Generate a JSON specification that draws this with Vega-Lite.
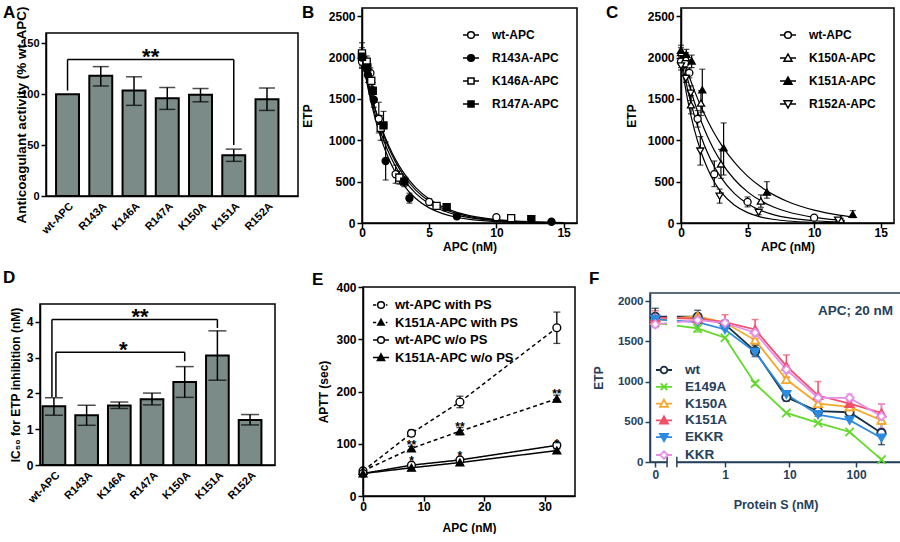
{
"$schema": "https://vega.github.io/schema/vega-lite/v6.json",
"padding": {"left": 1, "top": 1, "right": 1, "bottom": 0},
"datasets": {
"actA": [
{"variant":"wt-APC","act":100},
{"variant":"R143A","act":118,"lo":108,"hi":127},
{"variant":"K146A","act":103.5,"lo":89,"hi":117},
{"variant":"R147A","act":96,"lo":85,"hi":106.5},
{"variant":"K150A","act":99.5,"lo":92.5,"hi":105.5},
{"variant":"K151A","act":40,"lo":34,"hi":46},
{"variant":"R152A","act":95,"lo":84,"hi":106}
],
"sigA": [{"from":"wt-APC","to":"K151A","mid":"R147A","top":134,"left":103.5,"right":50,"label":"**"}],
"ic50D": [
{"variant":"wt-APC","ic50":1.64,"lo":1.39,"hi":1.88},
{"variant":"R143A","ic50":1.39,"lo":1.11,"hi":1.67},
{"variant":"K146A","ic50":1.66,"lo":1.58,"hi":1.76},
{"variant":"R147A","ic50":1.84,"lo":1.68,"hi":2.01},
{"variant":"K150A","ic50":2.32,"lo":1.89,"hi":2.75},
{"variant":"K151A","ic50":3.06,"lo":2.37,"hi":3.75},
{"variant":"R152A","ic50":1.26,"lo":1.12,"hi":1.41}
],
"sigD": [
{"from":"wt-APC","to":"K151A","mid":"R147A","top":4.07,"left":1.9,"right":3.83,"label":"**"},
{"from":"wt-APC","to":"K150A","mid":"K146A","top":3.15,"left":1.9,"right":2.9,"label":"*"}
],
"ptsB": [
{"variant":"wt-APC","apc":0,"etp":1950,"lo":1870,"hi":2030},
{"variant":"wt-APC","apc":0.31,"etp":1930,"lo":1870,"hi":1990},
{"variant":"wt-APC","apc":0.625,"etp":1815,"lo":1755,"hi":1875},
{"variant":"wt-APC","apc":1.25,"etp":1260,"lo":1090,"hi":1460},
{"variant":"wt-APC","apc":2.5,"etp":590,"lo":480,"hi":700},
{"variant":"wt-APC","apc":5,"etp":255,"lo":215,"hi":295},
{"variant":"wt-APC","apc":10,"etp":70,"lo":50,"hi":90},
{"variant":"R143A-APC","apc":0,"etp":2000,"lo":1880,"hi":2120},
{"variant":"R143A-APC","apc":0.44,"etp":1790,"lo":1700,"hi":1880},
{"variant":"R143A-APC","apc":0.88,"etp":1490,"lo":1400,"hi":1580},
{"variant":"R143A-APC","apc":1.76,"etp":750,"lo":520,"hi":980},
{"variant":"R143A-APC","apc":3.53,"etp":300,"lo":240,"hi":360},
{"variant":"R143A-APC","apc":7.06,"etp":80,"lo":65,"hi":95},
{"variant":"R143A-APC","apc":14.1,"etp":15,"lo":8,"hi":22},
{"variant":"K146A-APC","apc":0,"etp":2050,"lo":1900,"hi":2180},
{"variant":"K146A-APC","apc":0.35,"etp":1950,"lo":1880,"hi":2020},
{"variant":"K146A-APC","apc":0.69,"etp":1720,"lo":1650,"hi":1790},
{"variant":"K146A-APC","apc":1.39,"etp":1150,"lo":1000,"hi":1300},
{"variant":"K146A-APC","apc":2.78,"etp":550,"lo":470,"hi":630},
{"variant":"K146A-APC","apc":5.55,"etp":207,"lo":180,"hi":235},
{"variant":"K146A-APC","apc":11.1,"etp":58,"lo":45,"hi":70},
{"variant":"R147A-APC","apc":0,"etp":2010,"lo":1950,"hi":2070},
{"variant":"R147A-APC","apc":0.4,"etp":1880,"lo":1800,"hi":1960},
{"variant":"R147A-APC","apc":0.8,"etp":1600,"lo":1500,"hi":1700},
{"variant":"R147A-APC","apc":1.6,"etp":1180,"lo":1000,"hi":1350},
{"variant":"R147A-APC","apc":3.15,"etp":500,"lo":440,"hi":560},
{"variant":"R147A-APC","apc":6.3,"etp":192,"lo":170,"hi":215},
{"variant":"R147A-APC","apc":12.6,"etp":45,"lo":35,"hi":55}
],
"fitB": [
{"variant":"wt-APC","apc":0,"etp":2000},{"variant":"wt-APC","apc":0.5,"etp":1613},{"variant":"wt-APC","apc":1,"etp":1301},{"variant":"wt-APC","apc":1.5,"etp":1049},{"variant":"wt-APC","apc":2,"etp":846},{"variant":"wt-APC","apc":2.5,"etp":683},{"variant":"wt-APC","apc":3,"etp":551},{"variant":"wt-APC","apc":4,"etp":358},{"variant":"wt-APC","apc":5,"etp":233},{"variant":"wt-APC","apc":6,"etp":152},{"variant":"wt-APC","apc":7,"etp":99},{"variant":"wt-APC","apc":8,"etp":64},{"variant":"wt-APC","apc":10,"etp":27},{"variant":"wt-APC","apc":12,"etp":11},{"variant":"wt-APC","apc":14,"etp":5},{"variant":"wt-APC","apc":15,"etp":3},
{"variant":"R143A-APC","apc":0,"etp":2020},{"variant":"R143A-APC","apc":0.5,"etp":1589},{"variant":"R143A-APC","apc":1,"etp":1250},{"variant":"R143A-APC","apc":1.5,"etp":983},{"variant":"R143A-APC","apc":2,"etp":773},{"variant":"R143A-APC","apc":2.5,"etp":608},{"variant":"R143A-APC","apc":3,"etp":479},{"variant":"R143A-APC","apc":4,"etp":296},{"variant":"R143A-APC","apc":5,"etp":183},{"variant":"R143A-APC","apc":6,"etp":113},{"variant":"R143A-APC","apc":7,"etp":70},{"variant":"R143A-APC","apc":8,"etp":43},{"variant":"R143A-APC","apc":10,"etp":17},{"variant":"R143A-APC","apc":12,"etp":6},{"variant":"R143A-APC","apc":14,"etp":2},{"variant":"R143A-APC","apc":15,"etp":1},
{"variant":"K146A-APC","apc":0,"etp":2050},{"variant":"K146A-APC","apc":0.5,"etp":1670},{"variant":"K146A-APC","apc":1,"etp":1361},{"variant":"K146A-APC","apc":1.5,"etp":1108},{"variant":"K146A-APC","apc":2,"etp":903},{"variant":"K146A-APC","apc":2.5,"etp":736},{"variant":"K146A-APC","apc":3,"etp":599},{"variant":"K146A-APC","apc":4,"etp":398},{"variant":"K146A-APC","apc":5,"etp":264},{"variant":"K146A-APC","apc":6,"etp":175},{"variant":"K146A-APC","apc":7,"etp":116},{"variant":"K146A-APC","apc":8,"etp":77},{"variant":"K146A-APC","apc":10,"etp":34},{"variant":"K146A-APC","apc":12,"etp":15},{"variant":"K146A-APC","apc":14,"etp":6},{"variant":"K146A-APC","apc":15,"etp":4},
{"variant":"R147A-APC","apc":0,"etp":2030},{"variant":"R147A-APC","apc":0.5,"etp":1670},{"variant":"R147A-APC","apc":1,"etp":1374},{"variant":"R147A-APC","apc":1.5,"etp":1131},{"variant":"R147A-APC","apc":2,"etp":931},{"variant":"R147A-APC","apc":2.5,"etp":766},{"variant":"R147A-APC","apc":3,"etp":630},{"variant":"R147A-APC","apc":4,"etp":427},{"variant":"R147A-APC","apc":5,"etp":289},{"variant":"R147A-APC","apc":6,"etp":196},{"variant":"R147A-APC","apc":7,"etp":132},{"variant":"R147A-APC","apc":8,"etp":90},{"variant":"R147A-APC","apc":10,"etp":41},{"variant":"R147A-APC","apc":12,"etp":19},{"variant":"R147A-APC","apc":14,"etp":9},{"variant":"R147A-APC","apc":15,"etp":6}
],
"ptsC": [
{"variant":"wt-APC","apc":0,"etp":1950,"lo":1880,"hi":2020},
{"variant":"wt-APC","apc":0.31,"etp":1930,"lo":1880,"hi":1980},
{"variant":"wt-APC","apc":0.625,"etp":1815,"lo":1755,"hi":1875},
{"variant":"wt-APC","apc":1.25,"etp":1260,"lo":1160,"hi":1360},
{"variant":"wt-APC","apc":2.5,"etp":590,"lo":440,"hi":750},
{"variant":"wt-APC","apc":5,"etp":255,"lo":195,"hi":315},
{"variant":"wt-APC","apc":10,"etp":65,"lo":50,"hi":80},
{"variant":"K150A-APC","apc":0,"etp":2060,"lo":2000,"hi":2120},
{"variant":"K150A-APC","apc":0.375,"etp":2000,"lo":1940,"hi":2060},
{"variant":"K150A-APC","apc":0.75,"etp":1430,"lo":1320,"hi":1540},
{"variant":"K150A-APC","apc":1.5,"etp":1450,"lo":1300,"hi":1600},
{"variant":"K150A-APC","apc":3,"etp":714,"lo":540,"hi":890},
{"variant":"K150A-APC","apc":6,"etp":265,"lo":190,"hi":340},
{"variant":"K150A-APC","apc":12,"etp":42,"lo":28,"hi":56},
{"variant":"K151A-APC","apc":0,"etp":2090,"lo":2020,"hi":2150},
{"variant":"K151A-APC","apc":0.4,"etp":2040,"lo":1980,"hi":2100},
{"variant":"K151A-APC","apc":0.8,"etp":1960,"lo":1880,"hi":2030},
{"variant":"K151A-APC","apc":1.6,"etp":1610,"lo":1340,"hi":1860},
{"variant":"K151A-APC","apc":3.2,"etp":909,"lo":580,"hi":1210},
{"variant":"K151A-APC","apc":6.45,"etp":374,"lo":300,"hi":500},
{"variant":"K151A-APC","apc":12.9,"etp":105,"lo":65,"hi":150},
{"variant":"R152A-APC","apc":0,"etp":1900,"lo":1850,"hi":1950},
{"variant":"R152A-APC","apc":0.36,"etp":1750,"lo":1700,"hi":1800},
{"variant":"R152A-APC","apc":0.73,"etp":1570,"lo":1480,"hi":1660},
{"variant":"R152A-APC","apc":1.45,"etp":870,"lo":700,"hi":1045},
{"variant":"R152A-APC","apc":2.9,"etp":324,"lo":240,"hi":410},
{"variant":"R152A-APC","apc":5.83,"etp":129,"lo":100,"hi":160},
{"variant":"R152A-APC","apc":11.8,"etp":35,"lo":25,"hi":45}
],
"fitC": [
{"variant":"wt-APC","apc":0,"etp":2000},{"variant":"wt-APC","apc":0.5,"etp":1613},{"variant":"wt-APC","apc":1,"etp":1301},{"variant":"wt-APC","apc":1.5,"etp":1049},{"variant":"wt-APC","apc":2,"etp":846},{"variant":"wt-APC","apc":2.5,"etp":683},{"variant":"wt-APC","apc":3,"etp":551},{"variant":"wt-APC","apc":4,"etp":358},{"variant":"wt-APC","apc":5,"etp":233},{"variant":"wt-APC","apc":6,"etp":152},{"variant":"wt-APC","apc":7,"etp":99},{"variant":"wt-APC","apc":8,"etp":64},{"variant":"wt-APC","apc":10,"etp":27},{"variant":"wt-APC","apc":12,"etp":11},{"variant":"wt-APC","apc":12.3,"etp":10},
{"variant":"K150A-APC","apc":0,"etp":2060},{"variant":"K150A-APC","apc":0.5,"etp":1738},{"variant":"K150A-APC","apc":1,"etp":1466},{"variant":"K150A-APC","apc":1.5,"etp":1237},{"variant":"K150A-APC","apc":2,"etp":1044},{"variant":"K150A-APC","apc":2.5,"etp":880},{"variant":"K150A-APC","apc":3,"etp":743},{"variant":"K150A-APC","apc":4,"etp":529},{"variant":"K150A-APC","apc":5,"etp":376},{"variant":"K150A-APC","apc":6,"etp":268},{"variant":"K150A-APC","apc":7,"etp":191},{"variant":"K150A-APC","apc":8,"etp":136},{"variant":"K150A-APC","apc":10,"etp":69},{"variant":"K150A-APC","apc":12,"etp":35},{"variant":"K150A-APC","apc":12.3,"etp":31},
{"variant":"K151A-APC","apc":0,"etp":2080},{"variant":"K151A-APC","apc":0.5,"etp":1826},{"variant":"K151A-APC","apc":1,"etp":1604},{"variant":"K151A-APC","apc":1.5,"etp":1408},{"variant":"K151A-APC","apc":2,"etp":1237},{"variant":"K151A-APC","apc":2.5,"etp":1086},{"variant":"K151A-APC","apc":3,"etp":953},{"variant":"K151A-APC","apc":4,"etp":735},{"variant":"K151A-APC","apc":5,"etp":567},{"variant":"K151A-APC","apc":6,"etp":437},{"variant":"K151A-APC","apc":7,"etp":337},{"variant":"K151A-APC","apc":8,"etp":260},{"variant":"K151A-APC","apc":10,"etp":155},{"variant":"K151A-APC","apc":12,"etp":92},{"variant":"K151A-APC","apc":13,"etp":71},
{"variant":"R152A-APC","apc":0,"etp":1960},{"variant":"R152A-APC","apc":0.5,"etp":1487},{"variant":"R152A-APC","apc":1,"etp":1131},{"variant":"R152A-APC","apc":1.5,"etp":861},{"variant":"R152A-APC","apc":2,"etp":655},{"variant":"R152A-APC","apc":2.5,"etp":496},{"variant":"R152A-APC","apc":3,"etp":377},{"variant":"R152A-APC","apc":4,"etp":217},{"variant":"R152A-APC","apc":5,"etp":125},{"variant":"R152A-APC","apc":6,"etp":72},{"variant":"R152A-APC","apc":7,"etp":42},{"variant":"R152A-APC","apc":8,"etp":24},{"variant":"R152A-APC","apc":10,"etp":8},{"variant":"R152A-APC","apc":12,"etp":3},{"variant":"R152A-APC","apc":12.3,"etp":2}
],
"apttE": [
{"series":"wt-APC  with PS","apc":0,"aptt":48},
{"series":"wt-APC  with PS","apc":8,"aptt":120,"lo":114,"hi":126},
{"series":"wt-APC  with PS","apc":16,"aptt":180,"lo":169,"hi":191},
{"series":"wt-APC  with PS","apc":32,"aptt":322,"lo":292,"hi":352},
{"series":"K151A-APC with PS","apc":0,"aptt":48},
{"series":"K151A-APC with PS","apc":8,"aptt":91,"lo":87,"hi":95,"sig":"**"},
{"series":"K151A-APC with PS","apc":16,"aptt":124,"lo":117,"hi":131,"sig":"**"},
{"series":"K151A-APC with PS","apc":32,"aptt":186,"lo":180,"hi":193,"sig":"**"},
{"series":"wt-APC w/o PS","apc":0,"aptt":43},
{"series":"wt-APC w/o PS","apc":8,"aptt":59,"lo":55,"hi":63},
{"series":"wt-APC w/o PS","apc":16,"aptt":69,"lo":65,"hi":73},
{"series":"wt-APC w/o PS","apc":32,"aptt":97,"lo":92,"hi":102},
{"series":"K151A-APC w/o PS","apc":0,"aptt":43},
{"series":"K151A-APC w/o PS","apc":8,"aptt":54,"lo":51,"hi":57,"sig":"*"},
{"series":"K151A-APC w/o PS","apc":16,"aptt":64,"lo":61,"hi":67,"sig":"*"},
{"series":"K151A-APC w/o PS","apc":32,"aptt":87,"lo":84,"hi":90,"sig":"*"}
],
"psF": [
{"variant":"wt","ps":0,"etp":1805,"lo":1700,"hi":1910},
{"variant":"wt","ps":0.33,"etp":1805,"lo":1725,"hi":1885},
{"variant":"wt","ps":1,"etp":1710,"lo":1660,"hi":1760},
{"variant":"wt","ps":3,"etp":1378,"lo":1310,"hi":1450},
{"variant":"wt","ps":9,"etp":805,"lo":755,"hi":855},
{"variant":"wt","ps":27,"etp":631,"lo":570,"hi":690},
{"variant":"wt","ps":80,"etp":618,"lo":570,"hi":665},
{"variant":"wt","ps":240,"etp":361,"lo":215,"hi":495},
{"variant":"E149A","ps":0,"etp":1730},
{"variant":"E149A","ps":0.33,"etp":1660,"lo":1615,"hi":1705},
{"variant":"E149A","ps":1,"etp":1544},
{"variant":"E149A","ps":3,"etp":975,"lo":950,"hi":1000},
{"variant":"E149A","ps":9,"etp":610},
{"variant":"E149A","ps":27,"etp":485},
{"variant":"E149A","ps":80,"etp":373},
{"variant":"E149A","ps":240,"etp":29},
{"variant":"K150A","ps":0,"etp":1763},
{"variant":"K150A","ps":0.33,"etp":1813},
{"variant":"K150A","ps":1,"etp":1730},
{"variant":"K150A","ps":3,"etp":1515,"lo":1460,"hi":1570},
{"variant":"K150A","ps":9,"etp":1025,"lo":990,"hi":1060},
{"variant":"K150A","ps":27,"etp":726,"lo":690,"hi":760},
{"variant":"K150A","ps":80,"etp":685,"lo":650,"hi":720},
{"variant":"K150A","ps":240,"etp":519,"lo":470,"hi":570},
{"variant":"K151A","ps":0,"etp":1793,"lo":1700,"hi":1880},
{"variant":"K151A","ps":0.33,"etp":1780},
{"variant":"K151A","ps":1,"etp":1739,"lo":1650,"hi":1830},
{"variant":"K151A","ps":3,"etp":1647,"lo":1530,"hi":1770},
{"variant":"K151A","ps":9,"etp":1191,"lo":1050,"hi":1330},
{"variant":"K151A","ps":27,"etp":826,"lo":650,"hi":1000},
{"variant":"K151A","ps":80,"etp":726,"lo":680,"hi":770},
{"variant":"K151A","ps":240,"etp":610,"lo":500,"hi":720},
{"variant":"EKKR","ps":0,"etp":1772},
{"variant":"EKKR","ps":0.33,"etp":1739},
{"variant":"EKKR","ps":1,"etp":1647},
{"variant":"EKKR","ps":3,"etp":1365},
{"variant":"EKKR","ps":9,"etp":840},
{"variant":"EKKR","ps":27,"etp":589},
{"variant":"EKKR","ps":80,"etp":519},
{"variant":"EKKR","ps":240,"etp":299},
{"variant":"KKR","ps":0,"etp":1710,"lo":1670,"hi":1750},
{"variant":"KKR","ps":0.33,"etp":1763},
{"variant":"KKR","ps":1,"etp":1730},
{"variant":"KKR","ps":3,"etp":1606,"lo":1560,"hi":1650},
{"variant":"KKR","ps":9,"etp":1149,"lo":1100,"hi":1200},
{"variant":"KKR","ps":27,"etp":797,"lo":750,"hi":845},
{"variant":"KKR","ps":80,"etp":797,"lo":750,"hi":845},
{"variant":"KKR","ps":240,"etp":568,"lo":420,"hi":720}
]
},
"config": {
"font": "Liberation Sans",
"numberFormat": "d",
"view": {"stroke": "black", "strokeWidth": 1.5},
"axis": {"labelFontWeight": "bold", "labelFontSize": 12, "labelColor": "black", "titleFontWeight": "bold", "titleFontSize": 12, "titleColor": "black", "domainColor": "black", "domainWidth": 1.5, "tickColor": "black", "tickWidth": 1.5, "tickSize": 5, "grid": false, "labelPadding": 2, "labelFlush": false},
"legend": {"labelFontWeight": "bold", "labelFontSize": 12, "labelColor": "black", "symbolOpacity": 1, "padding": 0},
"title": {"fontSize": 17, "fontWeight": "bold", "anchor": "start", "frame": "group", "color": "black"}
},
"resolve": {"scale": {"x": "independent", "y": "independent", "shape": "independent", "fill": "independent", "stroke": "independent", "color": "independent", "strokeDash": "independent"}, "axis": {"x": "independent", "y": "independent"}, "legend": {"shape": "independent", "fill": "independent", "stroke": "independent", "color": "independent", "strokeDash": "independent"}},
"columns": 2, "align": "none", "spacing": {"row": 14, "column": 0},
"concat": [
{"width": 1, "height": 1, "view": {"stroke": null}, "data": {"values": [{}]}, "mark": {"type": "point", "size": 0, "opacity": 0, "strokeWidth": 0}},
{"columns": 2, "align": "none", "spacing": {"row": 0, "column": 1},
"resolve": {"scale": {"x": "independent", "y": "independent", "shape": "independent", "fill": "independent", "stroke": "independent", "color": "independent", "strokeDash": "independent"}, "axis": {"x": "independent", "y": "independent"}, "legend": {"shape": "independent", "fill": "independent", "stroke": "independent", "color": "independent", "strokeDash": "independent"}},
"concat": [
{"width": 1, "height": 1, "view": {"stroke": null}, "data": {"values": [{}]}, "mark": {"type": "point", "size": 0, "opacity": 0, "strokeWidth": 0}},
{"width": 1, "height": 1, "view": {"stroke": null}, "data": {"values": [{}]}, "mark": {"type": "point", "size": 0, "opacity": 0, "strokeWidth": 0}},
{
"width": 252, "height": 163,
"title": {"text": "A", "dx": -43, "offset": -15.5},
"layer": [
{"data": {"name": "actA"},
"mark": {"type": "bar", "fill": "#7b8c88", "stroke": "black", "strokeWidth": 2},
"encoding": {
"x": {"field": "variant", "type": "nominal", "title": null, "scale": {"domain": ["wt-APC","R143A","K146A","R147A","K150A","K151A","R152A"], "paddingInner": 0.31, "paddingOuter": 0.445, "align": 0.34}, "axis": {"labelAngle": -45, "ticks": false, "labelFontSize": 11, "labelPadding": 4}},
"y": {"field": "act", "type": "quantitative", "title": "Anticoagulant activity (% wt-APC)", "scale": {"domain": [0, 150]}, "axis": {"values": [0,50,100,150], "titleFontSize": 13.5, "labelFontSize": 11, "titlePadding": -7.5}}
}},
{"data": {"name": "actA"}, "transform": [{"filter": "isValid(datum.lo)"}],
"mark": {"type": "errorbar", "ticks": true, "size": 16, "thickness": 1.5, "color": "black"},
"encoding": {"x": {"field": "variant", "type": "nominal", "title": null}, "y": {"field": "lo", "type": "quantitative", "title": "Anticoagulant activity (% wt-APC)"}, "y2": {"field": "hi"}}},
{"data": {"name": "sigA"}, "mark": {"type": "rule", "strokeWidth": 1.5, "color": "black"},
"encoding": {"x": {"field": "from", "type": "nominal", "title": null, "bandPosition": 0.5}, "x2": {"field": "to", "bandPosition": 0.5}, "y": {"field": "top", "type": "quantitative", "title": "Anticoagulant activity (% wt-APC)"}}},
{"data": {"name": "sigA"}, "mark": {"type": "rule", "strokeWidth": 1.5, "color": "black"},
"encoding": {"x": {"field": "from", "type": "nominal", "title": null, "bandPosition": 0.5}, "y": {"field": "left", "type": "quantitative", "title": "Anticoagulant activity (% wt-APC)"}, "y2": {"field": "top"}}},
{"data": {"name": "sigA"}, "mark": {"type": "rule", "strokeWidth": 1.5, "color": "black"},
"encoding": {"x": {"field": "to", "type": "nominal", "title": null, "bandPosition": 0.5}, "y": {"field": "right", "type": "quantitative", "title": "Anticoagulant activity (% wt-APC)"}, "y2": {"field": "top"}}},
{"data": {"name": "sigA"}, "mark": {"type": "text", "fontSize": 22, "fontWeight": "bold", "dx": -16.6, "dy": 5, "baseline": "alphabetic", "color": "black"},
"encoding": {"x": {"field": "mid", "type": "nominal", "title": null, "bandPosition": 0.5}, "y": {"field": "top", "type": "quantitative", "title": "Anticoagulant activity (% wt-APC)"}, "text": {"field": "label"}}}
]
},
{"columns": 2, "align": "none", "spacing": 27,
"resolve": {"scale": {"x": "independent", "y": "independent", "shape": "independent", "fill": "independent", "stroke": "independent", "color": "independent", "strokeDash": "independent"}, "axis": {"x": "independent", "y": "independent"}, "legend": {"shape": "independent", "fill": "independent", "stroke": "independent", "color": "independent", "strokeDash": "independent"}},
"concat": [
{
"width": 215, "height": 215,
"title": {"text": "B", "dx": -60, "offset": -13.5},
"resolve": {"scale": {"shape": "independent", "fill": "independent", "stroke": "independent"}, "legend": {"shape": "independent", "fill": "independent", "stroke": "independent"}},
"layer": [
{"data": {"name": "fitB"}, "mark": {"type": "line", "interpolate": "monotone", "color": "black", "strokeWidth": 1.2},
"encoding": {
"x": {"field": "apc", "type": "quantitative", "title": "APC (nM)", "scale": {"domain": [0, 15]}, "axis": {"values": [0,5,10,15], "titlePadding": 3, "labelPadding": -1}},
"y": {"field": "etp", "type": "quantitative", "title": "ETP", "scale": {"domain": [0, 2500]}, "axis": {"values": [0,500,1000,1500,2000,2500], "titlePadding": 14}},
"detail": {"field": "variant", "type": "nominal"}}},
{"data": {"name": "ptsB"}, "mark": {"type": "errorbar", "ticks": true, "size": 6, "thickness": 1.2, "color": "black"},
"encoding": {"x": {"field": "apc", "type": "quantitative", "title": "APC (nM)"}, "y": {"field": "lo", "type": "quantitative", "title": "ETP"}, "y2": {"field": "hi"}}},
{"data": {"name": "ptsB"}, "mark": {"type": "point", "filled": true, "size": 50, "stroke": "black", "strokeWidth": 1.3, "opacity": 1},
"encoding": {
"x": {"field": "apc", "type": "quantitative", "title": "APC (nM)"},
"y": {"field": "etp", "type": "quantitative", "title": "ETP"},
"shape": {"field": "variant", "type": "nominal", "scale": {"domain": ["wt-APC","R143A-APC","K146A-APC","R147A-APC"], "range": ["circle","circle","square","square"]}, "legend": null},
"fill": {"field": "variant", "type": "nominal", "scale": {"domain": ["wt-APC","R143A-APC","K146A-APC","R147A-APC"], "range": ["white","black","white","black"]}, "legend": null}}},
{"data": {"name": "ptsB"}, "transform": [{"filter": "false"}], "mark": {"type": "point", "filled": true, "strokeWidth": 1.5, "opacity": 1},
"encoding": {
"x": {"field": "apc", "type": "quantitative", "title": "APC (nM)"},
"y": {"field": "etp", "type": "quantitative", "title": "ETP"},
"stroke": {"field": "variant", "type": "nominal", "scale": {"domain": ["wt-APC","R143A-APC","K146A-APC","R147A-APC"], "range": ["black","black","black","black"]}, "legend": null},
"fill": {"field": "variant", "type": "nominal", "scale": {"domain": ["wt-APC","R143A-APC","K146A-APC","R147A-APC"], "range": ["white","black","white","black"]}, "legend": null},
"shape": {"field": "variant", "type": "nominal", "scale": {"domain": ["wt-APC","R143A-APC","K146A-APC","R147A-APC"], "range": ["M-1,0L-0.42,0M0.42,0L1,0M0.42,0A0.42,0.42,0,1,1,-0.42,0A0.42,0.42,0,1,1,0.42,0Z","M-1,0L-0.42,0M0.42,0L1,0M0.42,0A0.42,0.42,0,1,1,-0.42,0A0.42,0.42,0,1,1,0.42,0Z","M-1,0L-0.38,0M0.38,0L1,0M-0.38,-0.38L0.38,-0.38L0.38,0.38L-0.38,0.38Z","M-1,0L-0.38,0M0.38,0L1,0M-0.38,-0.38L0.38,-0.38L0.38,0.38L-0.38,0.38Z"]},
"legend": {"title": null, "orient": "top-right", "offset": 18, "symbolSize": 256, "labelOffset": 12, "rowPadding": 7, "labelFontSize": 12, "symbolStrokeWidth": 1.5}}}}
]
},
{
"width": 213, "height": 215,
"title": {"text": "C", "dx": -75, "offset": -13.5},
"resolve": {"scale": {"shape": "independent", "fill": "independent", "stroke": "independent"}, "legend": {"shape": "independent", "fill": "independent", "stroke": "independent"}},
"layer": [
{"data": {"name": "fitC"}, "mark": {"type": "line", "interpolate": "monotone", "color": "black", "strokeWidth": 1.2},
"encoding": {
"x": {"field": "apc", "type": "quantitative", "title": "APC (nM)", "scale": {"domain": [0, 15]}, "axis": {"values": [0,5,10,15], "titlePadding": 3, "labelPadding": -1}},
"y": {"field": "etp", "type": "quantitative", "title": "ETP", "scale": {"domain": [0, 2500]}, "axis": {"values": [0,500,1000,1500,2000,2500], "titlePadding": 9}},
"detail": {"field": "variant", "type": "nominal"}}},
{"data": {"name": "ptsC"}, "mark": {"type": "errorbar", "ticks": true, "size": 6, "thickness": 1.2, "color": "black"},
"encoding": {"x": {"field": "apc", "type": "quantitative", "title": "APC (nM)"}, "y": {"field": "lo", "type": "quantitative", "title": "ETP"}, "y2": {"field": "hi"}}},
{"data": {"name": "ptsC"}, "mark": {"type": "point", "filled": true, "size": 50, "stroke": "black", "strokeWidth": 1.3, "opacity": 1},
"encoding": {
"x": {"field": "apc", "type": "quantitative", "title": "APC (nM)"},
"y": {"field": "etp", "type": "quantitative", "title": "ETP"},
"shape": {"field": "variant", "type": "nominal", "scale": {"domain": ["wt-APC","K150A-APC","K151A-APC","R152A-APC"], "range": ["circle","triangle-up","triangle-up","triangle-down"]}, "legend": null},
"fill": {"field": "variant", "type": "nominal", "scale": {"domain": ["wt-APC","K150A-APC","K151A-APC","R152A-APC"], "range": ["white","white","black","white"]}, "legend": null}}},
{"data": {"name": "ptsC"}, "transform": [{"filter": "false"}], "mark": {"type": "point", "filled": true, "strokeWidth": 1.5, "opacity": 1},
"encoding": {
"x": {"field": "apc", "type": "quantitative", "title": "APC (nM)"},
"y": {"field": "etp", "type": "quantitative", "title": "ETP"},
"stroke": {"field": "variant", "type": "nominal", "scale": {"domain": ["wt-APC","K150A-APC","K151A-APC","R152A-APC"], "range": ["black","black","black","black"]}, "legend": null},
"fill": {"field": "variant", "type": "nominal", "scale": {"domain": ["wt-APC","K150A-APC","K151A-APC","R152A-APC"], "range": ["white","white","black","white"]}, "legend": null},
"shape": {"field": "variant", "type": "nominal", "scale": {"domain": ["wt-APC","K150A-APC","K151A-APC","R152A-APC"], "range": ["M-1,0L-0.42,0M0.42,0L1,0M0.42,0A0.42,0.42,0,1,1,-0.42,0A0.42,0.42,0,1,1,0.42,0Z","M-1,0L-0.28,0M0.28,0L1,0M0,-0.5L0.5,0.4L-0.5,0.4Z","M-1,0L-0.28,0M0.28,0L1,0M0,-0.5L0.5,0.4L-0.5,0.4Z","M-1,0L-0.28,0M0.28,0L1,0M0,0.5L0.5,-0.4L-0.5,-0.4Z"]},
"legend": {"title": null, "orient": "top-right", "offset": 18, "symbolSize": 256, "labelOffset": 12, "rowPadding": 7, "labelFontSize": 12, "symbolStrokeWidth": 1.5}}}}
]
}
]}
]},
{"width": 1, "height": 1, "view": {"stroke": null}, "data": {"values": [{}]}, "mark": {"type": "point", "size": 0, "opacity": 0, "strokeWidth": 0}},
{"columns": 2, "align": "none", "spacing": {"row": 0, "column": 35},
"resolve": {"scale": {"x": "independent", "y": "independent", "shape": "independent", "fill": "independent", "stroke": "independent", "color": "independent", "strokeDash": "independent"}, "axis": {"x": "independent", "y": "independent"}, "legend": {"shape": "independent", "fill": "independent", "stroke": "independent", "color": "independent", "strokeDash": "independent"}},
"concat": [
{"width": 1, "height": 1, "view": {"stroke": null}, "data": {"values": [{}]}, "mark": {"type": "point", "size": 0, "opacity": 0, "strokeWidth": 0}},
{"width": 1, "height": 1, "view": {"stroke": null}, "data": {"values": [{}]}, "mark": {"type": "point", "size": 0, "opacity": 0, "strokeWidth": 0}},
{
"width": 235, "height": 161,
"title": {"text": "D", "dx": -37, "offset": 16.75},
"layer": [
{"data": {"name": "ic50D"},
"mark": {"type": "bar", "fill": "#7b8c88", "stroke": "black", "strokeWidth": 2},
"encoding": {
"x": {"field": "variant", "type": "nominal", "title": null, "scale": {"domain": ["wt-APC","R143A","K146A","R147A","K150A","K151A","R152A"], "paddingInner": 0.306, "paddingOuter": 0.247, "align": 0.16}, "axis": {"labelAngle": -45, "ticks": false, "labelFontSize": 11, "labelPadding": 4}},
"y": {"field": "ic50", "type": "quantitative", "title": "IC₅₀ for ETP inhibition (nM)", "scale": {"domain": [0, 4.5]}, "axis": {"values": [0,1,2,3,4], "titlePadding": 4}}
}},
{"data": {"name": "ic50D"},
"mark": {"type": "errorbar", "ticks": true, "size": 18, "thickness": 1.5, "color": "black"},
"encoding": {"x": {"field": "variant", "type": "nominal", "title": null}, "y": {"field": "lo", "type": "quantitative", "title": "IC₅₀ for ETP inhibition (nM)"}, "y2": {"field": "hi"}}},
{"data": {"name": "sigD"}, "transform": [{"filter": "datum.label === '**'"}], "mark": {"type": "rule", "strokeWidth": 1.5, "color": "black", "xOffset": -2},
"encoding": {"x": {"field": "from", "type": "nominal", "title": null, "bandPosition": 0.5}, "x2": {"field": "to", "bandPosition": 0.5}, "y": {"field": "top", "type": "quantitative", "title": "IC₅₀ for ETP inhibition (nM)"}}},
{"data": {"name": "sigD"}, "transform": [{"filter": "datum.label === '**'"}], "mark": {"type": "rule", "strokeWidth": 1.5, "color": "black", "xOffset": -2},
"encoding": {"x": {"field": "from", "type": "nominal", "title": null, "bandPosition": 0.5}, "y": {"field": "left", "type": "quantitative", "title": "IC₅₀ for ETP inhibition (nM)"}, "y2": {"field": "top"}}},
{"data": {"name": "sigD"}, "transform": [{"filter": "datum.label === '*'"}], "mark": {"type": "rule", "strokeWidth": 1.5, "color": "black", "xOffset": 2},
"encoding": {"x": {"field": "from", "type": "nominal", "title": null, "bandPosition": 0.5}, "x2": {"field": "to", "bandPosition": 0.5}, "y": {"field": "top", "type": "quantitative", "title": "IC₅₀ for ETP inhibition (nM)"}}},
{"data": {"name": "sigD"}, "transform": [{"filter": "datum.label === '*'"}], "mark": {"type": "rule", "strokeWidth": 1.5, "color": "black", "xOffset": 2},
"encoding": {"x": {"field": "from", "type": "nominal", "title": null, "bandPosition": 0.5}, "y": {"field": "left", "type": "quantitative", "title": "IC₅₀ for ETP inhibition (nM)"}, "y2": {"field": "top"}}},
{"data": {"name": "sigD"}, "mark": {"type": "rule", "strokeWidth": 1.5, "color": "black"},
"encoding": {"x": {"field": "to", "type": "nominal", "title": null, "bandPosition": 0.5}, "y": {"field": "right", "type": "quantitative", "title": "IC₅₀ for ETP inhibition (nM)"}, "y2": {"field": "top"}}},
{"data": {"name": "sigD"}, "transform": [{"filter": "datum.label === '**'"}], "mark": {"type": "text", "fontSize": 22, "fontWeight": "bold", "dx": -12, "dy": 5, "baseline": "alphabetic", "color": "black"},
"encoding": {"x": {"field": "mid", "type": "nominal", "title": null, "bandPosition": 0.5}, "y": {"field": "top", "type": "quantitative", "title": "IC₅₀ for ETP inhibition (nM)"}, "text": {"field": "label"}}},
{"data": {"name": "sigD"}, "transform": [{"filter": "datum.label === '*'"}], "mark": {"type": "text", "fontSize": 22, "fontWeight": "bold", "dx": 4, "dy": 5, "baseline": "alphabetic", "color": "black"},
"encoding": {"x": {"field": "mid", "type": "nominal", "title": null, "bandPosition": 0.5}, "y": {"field": "top", "type": "quantitative", "title": "IC₅₀ for ETP inhibition (nM)"}, "text": {"field": "label"}}}
]
},
{"columns": 2, "align": "none", "spacing": {"row": 0, "column": 12},
"resolve": {"scale": {"x": "independent", "y": "independent", "shape": "independent", "fill": "independent", "stroke": "independent", "color": "independent", "strokeDash": "independent"}, "axis": {"x": "independent", "y": "independent"}, "legend": {"shape": "independent", "fill": "independent", "stroke": "independent", "color": "independent", "strokeDash": "independent"}},
"concat": [
{"width": 1, "height": 1, "view": {"stroke": null}, "data": {"values": [{}]}, "mark": {"type": "point", "size": 0, "opacity": 0, "strokeWidth": 0}},
{"width": 1, "height": 1, "view": {"stroke": null}, "data": {"values": [{}]}, "mark": {"type": "point", "size": 0, "opacity": 0, "strokeWidth": 0}},
{
"width": 212, "height": 209,
"title": {"text": "E", "dx": -51, "offset": -7.5},
"resolve": {"scale": {"shape": "independent", "fill": "independent", "stroke": "independent"}, "legend": {"shape": "independent", "fill": "independent", "stroke": "independent"}},
"layer": [
{"data": {"name": "apttE"}, "mark": {"type": "line", "color": "black", "strokeWidth": 1.5},
"encoding": {
"x": {"field": "apc", "type": "quantitative", "title": "APC (nM)", "scale": {"domain": [0, 34]}, "axis": {"values": [0,10,20,30], "titlePadding": 10, "labelPadding": 0}},
"y": {"field": "aptt", "type": "quantitative", "title": "APTT (sec)", "scale": {"domain": [0, 400]}, "axis": {"values": [0,100,200,300,400], "titlePadding": 5}},
"detail": {"field": "series", "type": "nominal"},
"strokeDash": {"field": "series", "type": "nominal", "scale": {"domain": ["wt-APC  with PS","K151A-APC with PS","wt-APC w/o PS","K151A-APC w/o PS"], "range": [[4,3],[4,3],[1,0],[1,0]]}, "legend": null}}},
{"data": {"name": "apttE"}, "transform": [{"filter": "isValid(datum.lo)"}], "mark": {"type": "errorbar", "ticks": true, "size": 7, "thickness": 1.3, "color": "black"},
"encoding": {"x": {"field": "apc", "type": "quantitative", "title": "APC (nM)"}, "y": {"field": "lo", "type": "quantitative", "title": "APTT (sec)"}, "y2": {"field": "hi"}}},
{"data": {"name": "apttE"}, "mark": {"type": "point", "filled": true, "size": 60, "stroke": "black", "strokeWidth": 1.4, "opacity": 1},
"encoding": {
"x": {"field": "apc", "type": "quantitative", "title": "APC (nM)"},
"y": {"field": "aptt", "type": "quantitative", "title": "APTT (sec)"},
"shape": {"field": "series", "type": "nominal", "scale": {"domain": ["wt-APC  with PS","K151A-APC with PS","wt-APC w/o PS","K151A-APC w/o PS"], "range": ["circle","triangle-up","circle","triangle-up"]}, "legend": null},
"fill": {"field": "series", "type": "nominal", "scale": {"domain": ["wt-APC  with PS","K151A-APC with PS","wt-APC w/o PS","K151A-APC w/o PS"], "range": ["white","black","white","black"]}, "legend": null}}},
{"data": {"name": "apttE"}, "transform": [{"filter": "false"}], "mark": {"type": "point", "filled": true, "strokeWidth": 1.5, "opacity": 1},
"encoding": {
"x": {"field": "apc", "type": "quantitative", "title": "APC (nM)"},
"y": {"field": "aptt", "type": "quantitative", "title": "APTT (sec)"},
"stroke": {"field": "series", "type": "nominal", "scale": {"domain": ["wt-APC  with PS","K151A-APC with PS","wt-APC w/o PS","K151A-APC w/o PS"], "range": ["black","black","black","black"]}, "legend": null},
"fill": {"field": "series", "type": "nominal", "scale": {"domain": ["wt-APC  with PS","K151A-APC with PS","wt-APC w/o PS","K151A-APC w/o PS"], "range": ["white","black","white","black"]}, "legend": null},
"shape": {"field": "series", "type": "nominal", "scale": {"domain": ["wt-APC  with PS","K151A-APC with PS","wt-APC w/o PS","K151A-APC w/o PS"], "range": ["M-1,0L-0.6,0M0.6,0L0.8,0M0.42,0A0.42,0.42,0,1,1,-0.42,0A0.42,0.42,0,1,1,0.42,0Z","M-1,0L-0.6,0M0.6,0L0.8,0M0,-0.4L0.4,0.32L-0.4,0.32Z","M-1,0L-0.42,0M0.42,0L1,0M0.42,0A0.42,0.42,0,1,1,-0.42,0A0.42,0.42,0,1,1,0.42,0Z","M-1,0L1,0M0,-0.45L0.45,0.36L-0.45,0.36Z"]},
"legend": {"title": null, "orient": "top-left", "offset": 9, "symbolSize": 256, "labelOffset": 5, "rowPadding": 1.5, "labelFontSize": 13, "symbolStrokeWidth": 1.5}}}},
{"data": {"name": "apttE"}, "transform": [{"filter": "datum.sig === '**'"}], "mark": {"type": "text", "fontSize": 12, "fontWeight": "bold", "baseline": "alphabetic", "dy": 3, "color": "black"},
"encoding": {"x": {"field": "apc", "type": "quantitative", "title": "APC (nM)"}, "y": {"field": "hi", "type": "quantitative", "title": "APTT (sec)"}, "text": {"field": "sig"}}},
{"data": {"name": "apttE"}, "transform": [{"filter": "datum.sig === '*'"}], "mark": {"type": "text", "fontSize": 12, "fontWeight": "bold", "baseline": "alphabetic", "dy": -1, "color": "black"},
"encoding": {"x": {"field": "apc", "type": "quantitative", "title": "APC (nM)"}, "y": {"field": "hi", "type": "quantitative", "title": "APTT (sec)"}, "text": {"field": "sig"}}}
]
},
{
"width": 251, "height": 169,
"view": {"stroke": "#26405a", "strokeWidth": 1.5},
"title": {"text": "F", "dx": -61, "offset": 4.75},
"resolve": {"scale": {"shape": "independent", "fill": "independent", "stroke": "independent"}, "legend": {"shape": "independent", "fill": "independent", "stroke": "independent"}},
"layer": [
{"data": {"name": "psF"}, "mark": {"type": "line", "strokeWidth": 1.8},
"encoding": {
"x": {"field": "ps", "type": "quantitative", "title": "Protein S (nM)", "scale": {"type": "symlog", "constant": 0.1, "domain": [-0.02, 470], "nice": false, "zero": false},
"axis": {"values": [0,1,10,100], "format": "d", "labelOverlap": false, "titlePadding": 18, "labelPadding": 2, "domainColor": "#26405a", "tickColor": "#26405a", "labelColor": "#26405a", "titleColor": "#26405a", "titleFontSize": 12.5}},
"y": {"field": "etp", "type": "quantitative", "title": "ETP", "scale": {"domain": [0, 2100], "nice": false}, "axis": {"values": [0,500,1000,1500,2000], "labelFontSize": 11.5, "titlePadding": 12, "domainColor": "#26405a", "tickColor": "#26405a", "labelColor": "#26405a", "titleColor": "#26405a"}},
"stroke": {"field": "variant", "type": "nominal", "scale": {"domain": ["wt","E149A","K150A","K151A","EKKR","KKR"], "range": ["#1b3045","#62d92b","#f5a82a","#f0506a","#2b8be0","#e58ee8"]}, "legend": null}}},
{"data": {"name": "psF"}, "transform": [{"filter": "isValid(datum.lo)"}], "mark": {"type": "errorbar", "ticks": true, "size": 7, "thickness": 1.5},
"encoding": {"x": {"field": "ps", "type": "quantitative", "title": "Protein S (nM)"}, "y": {"field": "lo", "type": "quantitative", "title": "ETP"}, "y2": {"field": "hi"},
"color": {"field": "variant", "type": "nominal", "scale": {"domain": ["wt","E149A","K150A","K151A","EKKR","KKR"], "range": ["#1b3045","#62d92b","#f5a82a","#f0506a","#2b8be0","#e58ee8"]}, "legend": null}}},
{"data": {"name": "psF"}, "mark": {"type": "point", "filled": true, "size": 70, "strokeWidth": 1.8, "opacity": 1},
"encoding": {
"x": {"field": "ps", "type": "quantitative", "title": "Protein S (nM)"},
"y": {"field": "etp", "type": "quantitative", "title": "ETP"},
"stroke": {"field": "variant", "type": "nominal", "scale": {"domain": ["wt","E149A","K150A","K151A","EKKR","KKR"], "range": ["#1b3045","#62d92b","#f5a82a","#f0506a","#2b8be0","#e58ee8"]}, "legend": null},
"shape": {"field": "variant", "type": "nominal", "scale": {"domain": ["wt","E149A","K150A","K151A","EKKR","KKR"], "range": ["circle","M-1,-1L1,1M-1,1L1,-1","triangle-up","triangle-up","triangle-down","diamond"]}, "legend": null},
"fill": {"field": "variant", "type": "nominal", "scale": {"domain": ["wt","E149A","K150A","K151A","EKKR","KKR"], "range": ["white","transparent","white","#f0506a","#2b8be0","white"]}, "legend": null}}},
{"data": {"name": "psF"}, "transform": [{"filter": "false"}], "mark": {"type": "point", "filled": true, "strokeWidth": 1.8, "opacity": 1},
"encoding": {
"x": {"field": "ps", "type": "quantitative", "title": "Protein S (nM)"},
"y": {"field": "etp", "type": "quantitative", "title": "ETP"},
"stroke": {"field": "variant", "type": "nominal", "scale": {"domain": ["wt","E149A","K150A","K151A","EKKR","KKR"], "range": ["#1b3045","#62d92b","#f5a82a","#f0506a","#2b8be0","#e58ee8"]}, "legend": null},
"fill": {"field": "variant", "type": "nominal", "scale": {"domain": ["wt","E149A","K150A","K151A","EKKR","KKR"], "range": ["white","transparent","white","#f0506a","#2b8be0","white"]}, "legend": null},
"shape": {"field": "variant", "type": "nominal", "scale": {"domain": ["wt","E149A","K150A","K151A","EKKR","KKR"], "range": ["M-1,0L-0.42,0M0.42,0L1,0M0.42,0A0.42,0.42,0,1,1,-0.42,0A0.42,0.42,0,1,1,0.42,0Z","M-1,0L1,0M-0.42,-0.42L0.42,0.42M-0.42,0.42L0.42,-0.42","M-1,0L-0.28,0M0.28,0L1,0M0,-0.5L0.5,0.4L-0.5,0.4Z","M-1,0L-0.28,0M0.28,0L1,0M0,-0.5L0.5,0.4L-0.5,0.4Z","M-1,0L-0.28,0M0.28,0L1,0M0,0.5L0.5,-0.4L-0.5,-0.4Z","M-1,0L-0.48,0M0.48,0L1,0M0,-0.48L0.48,0L0,0.48L-0.48,0Z"]},
"legend": {"title": null, "orient": "none", "legendX": 5, "legendY": 68, "symbolSize": 256, "labelOffset": 12, "rowPadding": 0.8, "labelFontSize": 13.5, "labelColor": "#26405a", "symbolStrokeWidth": 1.8}}}},
{"data": {"values": [{}]}, "mark": {"type": "rect", "fill": "white", "clip": false},
"encoding": {"x": {"datum": 0.05}, "x2": {"datum": 0.11}, "y": {"datum": -40}, "y2": {"datum": 2050}}},
{"data": {"values": [{}]}, "mark": {"type": "rule", "color": "#26405a", "strokeWidth": 1.5, "clip": false},
"encoding": {"x": {"datum": 0.05}, "y": {"datum": -65}, "y2": {"datum": 65}}},
{"data": {"values": [{}]}, "mark": {"type": "rule", "color": "#26405a", "strokeWidth": 1.5, "clip": false},
"encoding": {"x": {"datum": 0.11}, "y": {"datum": -65}, "y2": {"datum": 65}}},
{"data": {"values": [{"note": "APC; 20 nM"}]}, "mark": {"type": "text", "align": "right", "baseline": "alphabetic", "fontSize": 13.5, "fontWeight": "bold", "color": "#26405a"},
"encoding": {"x": {"datum": 357}, "y": {"datum": 1830}, "text": {"field": "note"}}}
]
}
]}
]}
]
}
